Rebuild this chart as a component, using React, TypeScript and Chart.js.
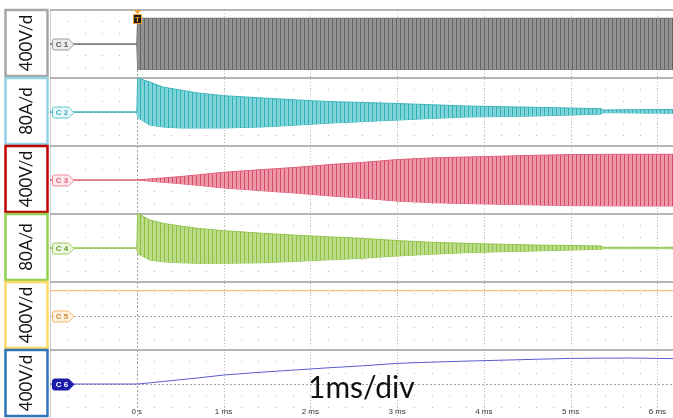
import React, { useEffect, useRef } from "react";
import { Chart, registerables } from "chart.js";

Chart.register(...registerables);

// ---- data (time in ms, amplitudes in vertical divisions from each channel's centre line) ----
const TIME_MS = [-1, 0, 0.01, 0.15, 0.3, 0.5, 0.7, 1.0, 1.45, 1.85, 2.25, 2.6, 3.0, 3.4, 3.8, 4.2, 4.6, 5.0, 5.35, 5.38, 5.7, 6.18];

const C1_UPPER = [0, 0, 2.27, 2.27, 2.27, 2.27, 2.27, 2.27, 2.27, 2.27, 2.27, 2.27, 2.27, 2.27, 2.27, 2.27, 2.27, 2.27, 2.27, 2.27, 2.27, 2.27];
const C1_LOWER = [0, 0, -2.25, -2.25, -2.25, -2.25, -2.25, -2.25, -2.25, -2.25, -2.25, -2.25, -2.25, -2.25, -2.25, -2.25, -2.25, -2.25, -2.25, -2.25, -2.25, -2.25];

const C2_UPPER = [0, 0, 3.0, 2.65, 2.2, 1.94, 1.68, 1.44, 1.24, 1.06, 0.91, 0.84, 0.75, 0.64, 0.53, 0.47, 0.41, 0.35, 0.29, 0.18, 0.2, 0.22];
const C2_LOWER = [0, 0, -0.5, -1.15, -1.32, -1.41, -1.41, -1.41, -1.32, -1.15, -0.97, -0.85, -0.71, -0.57, -0.44, -0.4, -0.35, -0.27, -0.18, -0.06, -0.08, -0.11];

const C3_UPPER = [0, 0, 0.01, 0.09, 0.18, 0.3, 0.45, 0.68, 0.92, 1.12, 1.38, 1.55, 1.8, 1.95, 2.03, 2.1, 2.18, 2.24, 2.26, 2.26, 2.27, 2.27];
const C3_LOWER = [0, 0, -0.01, -0.1, -0.2, -0.32, -0.47, -0.7, -0.95, -1.16, -1.42, -1.6, -1.86, -2.0, -2.08, -2.14, -2.2, -2.26, -2.28, -2.28, -2.29, -2.29];

const C4_UPPER = [0, 0, 3.06, 2.47, 2.18, 1.94, 1.74, 1.53, 1.3, 1.12, 0.97, 0.85, 0.66, 0.5, 0.41, 0.33, 0.26, 0.22, 0.18, 0.06, 0.06, 0.06];
const C4_LOWER = [0, 0, -0.5, -1.06, -1.21, -1.3, -1.35, -1.35, -1.3, -1.17, -1.03, -0.91, -0.7, -0.55, -0.41, -0.33, -0.26, -0.18, -0.11, -0.06, -0.06, -0.06];

const C5_VALUES = [2.24, 2.24, 2.24, 2.24, 2.24, 2.24, 2.24, 2.24, 2.24, 2.24, 2.24, 2.24, 2.24, 2.24, 2.24, 2.24, 2.24, 2.24, 2.24, 2.24, 2.24, 2.24];
const C6_VALUES = [0, 0, 0, 0.1, 0.22, 0.38, 0.53, 0.79, 1.05, 1.25, 1.45, 1.6, 1.82, 1.93, 2.02, 2.1, 2.18, 2.26, 2.28, 2.28, 2.29, 2.24];

const CHANNEL_TAGS = ["C 1", "C 2", "C 3", "C 4", "C 5", "C 6"];
const SCALE_LABELS = ["400V/d", "80A/d", "400V/d", "80A/d", "400V/d", "400V/d"];
const X_TICKS = [0, 1, 2, 3, 4, 5, 6];
const X_TICK_LABELS = ["0 s", "1 ms", "2 ms", "3 ms", "4 ms", "5 ms", "6 ms"];
const TIMEBASE_LABEL = "1ms/div";
const TRIGGER_LABEL = "T";

// ---- styling ----
const PANELS = 6;
const DIVS = 6;
const Y_MAX = PANELS * DIVS;
const centerOf = (k: number) => Y_MAX - DIVS * k - DIVS / 2;

const BOX_COLORS = ["#a6a6a6", "#92d2e4", "#c00000", "#92d050", "#ffd966", "#2e75b6"];
const TAG_STYLES = [
  { fill: "#ececec", stroke: "#9a9a9a", text: "#555555" },
  { fill: "#e6f8fa", stroke: "#5cc9d2", text: "#3aaab4" },
  { fill: "#fde8ec", stroke: "#ee8899", text: "#e0607a" },
  { fill: "#eef7e0", stroke: "#9ccc5a", text: "#6a9a30" },
  { fill: "#fff1e0", stroke: "#f5b46a", text: "#c98a3a" },
  { fill: "#1c1ca8", stroke: "#1c1ca8", text: "#ffffff" },
];

function stripes(base: string, dark: string): CanvasPattern | string {
  const c = document.createElement("canvas");
  c.width = 4;
  c.height = 1;
  const g = c.getContext("2d");
  if (!g) return base;
  g.fillStyle = base;
  g.fillRect(0, 0, 4, 1);
  g.fillStyle = dark;
  g.fillRect(0, 0, 1, 1);
  return g.createPattern(c, "repeat") || base;
}

const scopePlugin = {
  id: "scope",
  beforeDatasetsDraw(chart: any) {
    const { ctx, chartArea: a, scales } = chart;
    const x = scales.x;
    const y = scales.y;
    ctx.save();
    ctx.fillStyle = "#b8b8b8";
    for (let k = 0; k < PANELS; k++) {
      const c = centerOf(k);
      for (const d of [-2, -1, 1, 2]) {
        const py = Math.round(y.getPixelForValue(c + d));
        for (let i = -5; i <= 31; i++) {
          const px = Math.round(x.getPixelForValue(i / 5));
          ctx.fillRect(px, py, 1, 1);
        }
      }
    }
    for (const t of X_TICKS) {
      const px = Math.round(x.getPixelForValue(t)) + 0.5;
      ctx.strokeStyle = t === 0 ? "#a0a0a0" : "#bdbdbd";
      ctx.lineWidth = 1;
      ctx.setLineDash(t === 0 ? [2, 2] : [1, 2]);
      ctx.beginPath();
      ctx.moveTo(px, a.top);
      ctx.lineTo(px, a.bottom);
      ctx.stroke();
    }
    ctx.setLineDash([2, 2]);
    ctx.strokeStyle = "#a3a3a3";
    for (let k = 0; k < PANELS; k++) {
      const py = Math.round(y.getPixelForValue(centerOf(k))) + 0.5;
      ctx.beginPath();
      ctx.moveTo(a.left, py);
      ctx.lineTo(a.right, py);
      ctx.stroke();
    }
    ctx.setLineDash([]);
    ctx.strokeStyle = "#cccccc";
    ctx.beginPath();
    ctx.moveTo(a.left + 0.5, a.top);
    ctx.lineTo(a.left + 0.5, a.bottom);
    ctx.stroke();
    ctx.strokeStyle = "#9c9c9c";
    ctx.lineWidth = 1.5;
    for (let k = 0; k < PANELS; k++) {
      const py = y.getPixelForValue(Y_MAX - DIVS * k);
      ctx.beginPath();
      ctx.moveTo(a.left, py);
      ctx.lineTo(a.right, py);
      ctx.stroke();
    }
    ctx.restore();
  },
  afterDatasetsDraw(chart: any) {
    const { ctx, scales } = chart;
    const x = scales.x;
    const y = scales.y;
    ctx.save();
    for (let k = 0; k < PANELS; k++) {
      const py = Math.round(y.getPixelForValue(centerOf(k))) + 0.5;
      const s = TAG_STYLES[k];
      const l = 52.5, r = 68.5, tip = 74, h = 5.5;
      ctx.beginPath();
      ctx.moveTo(l + 2, py - h);
      ctx.lineTo(r, py - h);
      ctx.lineTo(tip, py);
      ctx.lineTo(r, py + h);
      ctx.lineTo(l + 2, py + h);
      ctx.quadraticCurveTo(l, py + h, l, py + h - 2);
      ctx.lineTo(l, py - h + 2);
      ctx.quadraticCurveTo(l, py - h, l + 2, py - h);
      ctx.closePath();
      ctx.fillStyle = s.fill;
      ctx.fill();
      ctx.strokeStyle = s.stroke;
      ctx.lineWidth = 1;
      ctx.stroke();
      ctx.fillStyle = s.text;
      ctx.font = "bold 8px 'Liberation Sans'";
      ctx.textAlign = "center";
      ctx.textBaseline = "middle";
      ctx.fillText(CHANNEL_TAGS[k], 62, py + 0.5);
    }
    const p0 = Math.round(x.getPixelForValue(0)) + 0.5;
    ctx.fillStyle = "#f0a030";
    ctx.beginPath();
    ctx.moveTo(p0 - 4, 10);
    ctx.lineTo(p0 + 4, 10);
    ctx.lineTo(p0, 14);
    ctx.closePath();
    ctx.fill();
    ctx.fillRect(p0 - 4.5, 14, 9, 10);
    ctx.fillStyle = "#1a1a1a";
    ctx.fillRect(p0 - 3.5, 15, 7, 8);
    ctx.fillStyle = "#f0a030";
    ctx.font = "bold 8px 'Liberation Sans'";
    ctx.textAlign = "center";
    ctx.textBaseline = "middle";
    ctx.fillText(TRIGGER_LABEL, p0, 19.5);
    ctx.fillStyle = "#333333";
    ctx.font = "8px 'Liberation Sans'";
    X_TICKS.forEach((t, i) => {
      ctx.fillText(X_TICK_LABELS[i], x.getPixelForValue(t), 412);
    });
    ctx.fillStyle = "#111111";
    ctx.font = "30px Lato";
    ctx.textAlign = "left";
    ctx.textBaseline = "alphabetic";
    ctx.fillText(TIMEBASE_LABEL, 308, 398);
    ctx.restore();
  },
  afterDraw(chart: any) {
    const { ctx, scales } = chart;
    const y = scales.y;
    ctx.save();
    for (let k = 0; k < PANELS; k++) {
      const top = y.getPixelForValue(Y_MAX - DIVS * k);
      const bot = y.getPixelForValue(Y_MAX - DIVS * (k + 1));
      ctx.strokeStyle = BOX_COLORS[k];
      ctx.lineWidth = 2.5;
      ctx.strokeRect(5.5, top, 42, bot - top - 2);
      ctx.save();
      ctx.translate(27, (top + bot) / 2 - 1);
      ctx.rotate(-Math.PI / 2);
      ctx.fillStyle = "#111111";
      ctx.font = "17px Lato";
      ctx.textAlign = "center";
      ctx.textBaseline = "middle";
      ctx.fillText(SCALE_LABELS[k], 0, 0);
      ctx.restore();
    }
    ctx.restore();
  },
};

export default function App() {
  const ref = useRef<HTMLCanvasElement | null>(null);

  useEffect(() => {
    const canvas = ref.current;
    if (!canvas) return;
    const pts = (vals: number[], k: number) => TIME_MS.map((t, i) => ({ x: t, y: centerOf(k) + vals[i] }));
    const band = (up: number[], lo: number[], k: number, fillStyle: any, edge: string) => [
      { data: pts(up, k), fill: "+1", backgroundColor: fillStyle, borderColor: edge, borderWidth: 1, pointRadius: 0 },
      { data: pts(lo, k), fill: false, borderColor: edge, borderWidth: 1, pointRadius: 0 },
    ];
    const datasets: any[] = [
      ...band(C1_UPPER, C1_LOWER, 0, stripes("#929292", "#646464"), "#6e6e6e"),
      ...band(C2_UPPER, C2_LOWER, 1, stripes("#7fd4d8", "#2fb0b8"), "#3db5bd"),
      ...band(C3_UPPER, C3_LOWER, 2, stripes("#ec98a8", "#d94a68"), "#e06078"),
      ...band(C4_UPPER, C4_LOWER, 3, stripes("#bddc8a", "#8cc040"), "#94c44c"),
      { data: pts(C5_VALUES, 4), fill: false, borderColor: "#f7bd7a", borderWidth: 1.2, pointRadius: 0 },
      { data: pts(C6_VALUES, 5), fill: false, borderColor: "#5a5ad0", borderWidth: 1, pointRadius: 0 },
    ];
    const chart = new Chart(canvas, {
      type: "line",
      data: { datasets },
      options: {
        animation: false,
        responsive: false,
        devicePixelRatio: 1,
        layout: { padding: { left: 50, top: 10, right: 0, bottom: 0 } },
        plugins: { legend: { display: false }, tooltip: { enabled: false } },
        elements: { line: { tension: 0 } },
        scales: {
          x: { type: "linear", min: -1, max: 6.18, display: false },
          y: { type: "linear", min: 0, max: Y_MAX, display: false },
        },
      },
      plugins: [scopePlugin],
    });
    return () => chart.destroy();
  }, []);

  return (
    <div style={{ position: "absolute", left: 0, top: 0, width: 673, height: 418, background: "#ffffff", overflow: "hidden" }}>
      <canvas ref={ref} width={673} height={418} style={{ display: "block" }} />
    </div>
  );
}
